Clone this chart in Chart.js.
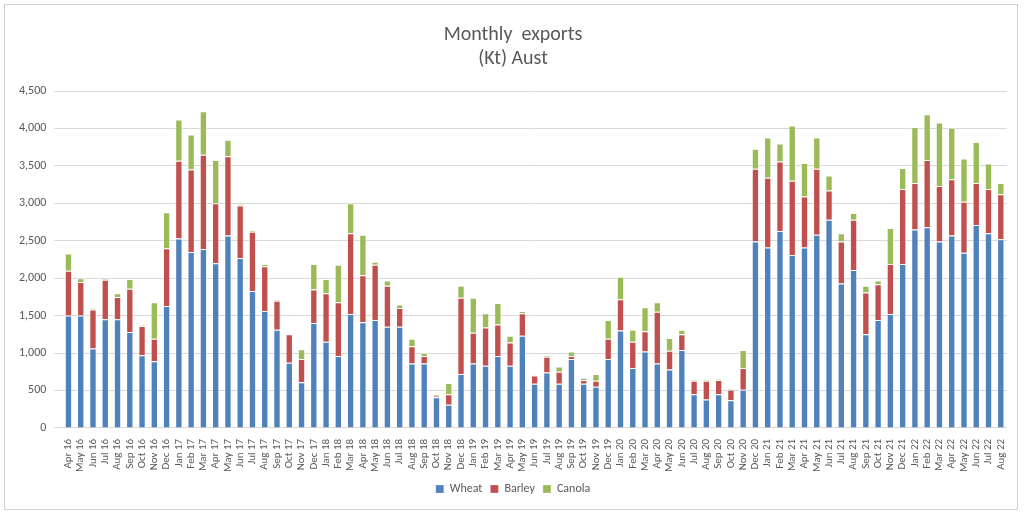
<!DOCTYPE html>
<html>
<head>
<meta charset="utf-8">
<script src="https://cdn.jsdelivr.net/npm/chart.js@4/dist/chart.umd.min.js"></script>
<style>
  html, body { margin: 0; padding: 0; background: #fff; }
  #wrap { position: absolute; left: 4px; top: 4px; width: 1014px; height: 506px; border: 1px solid #d0d0d0; box-sizing: border-box; }
</style>
</head>
<body>
<div id="wrap"><canvas id="chart"></canvas></div>
<script>
const months = ['Apr 16','May 16','Jun 16','Jul 16','Aug 16','Sep 16','Oct 16','Nov 16','Dec 16',
  'Jan 17','Feb 17','Mar 17','Apr 17','May 17','Jun 17','Jul 17','Aug 17','Sep 17','Oct 17','Nov 17','Dec 17',
  'Jan 18','Feb 18','Mar 18','Apr 18','May 18','Jun 18','Jul 18','Aug 18','Sep 18','Oct 18','Nov 18','Dec 18',
  'Jan 19','Feb 19','Mar 19','Apr 19','May 19','Jun 19','Jul 19','Aug 19','Sep 19','Oct 19','Nov 19','Dec 19',
  'Jan 20','Feb 20','Mar 20','Apr 20','May 20','Jun 20','Jul 20','Aug 20','Sep 20','Oct 20','Nov 20','Dec 20',
  'Jan 21','Feb 21','Mar 21','Apr 21','May 21','Jun 21','Jul 21','Aug 21','Sep 21','Oct 21','Nov 21','Dec 21',
  'Jan 22','Feb 22','Mar 22','Apr 22','May 22','Jun 22','Jul 22','Aug 22'];

const wheat = [1500,1500,1060,1450,1450,1280,970,890,1630,
  2530,2350,2390,2200,2570,2270,1830,1560,1310,870,610,1400,
  1150,960,1520,1410,1440,1350,1350,860,860,410,310,720,
  860,830,960,830,1230,590,740,590,920,590,550,920,
  1300,800,1020,860,780,1040,450,380,450,370,510,2490,
  2410,2630,2310,2410,2580,2780,1930,2110,1250,1440,1520,2190,
  2650,2680,2490,2570,2340,2710,2600,2520];

const barley = [600,450,520,530,300,580,390,300,770,
  1040,1100,1260,800,1060,700,790,600,390,380,310,450,
  650,720,1080,630,740,550,250,230,100,20,140,1020,
  410,510,420,310,300,110,210,160,40,50,80,270,
  420,350,270,690,250,210,180,250,190,140,290,970,
  930,930,990,680,880,390,560,670,560,480,670,1000,
  620,900,740,750,680,560,590,600];

const canola = [230,50,20,10,50,130,10,490,480,
  550,470,580,580,220,20,20,30,10,10,130,340,
  190,500,400,540,40,70,50,100,40,20,150,160,
  470,190,290,90,30,10,20,70,60,30,90,250,
  300,160,320,130,170,60,10,10,10,10,240,270,
  540,240,740,450,420,200,110,90,90,50,480,280,
  750,610,850,690,580,550,340,150];

const yTicks = [0,500,1000,1500,2000,2500,3000,3500,4000,4500];

const font = 'Calibri, "Liberation Sans", Arial, sans-serif';

function series(label, data, color) {
  return {
    label, data,
    backgroundColor: color,
    borderColor: 'rgba(255,255,255,0.35)',
    borderWidth: { left: 1, right: 1, top: 1, bottom: 0 },
    categoryPercentage: 0.6,
    barPercentage: 1,
  };
}

new Chart(document.getElementById('chart'), {
  type: 'bar',
  data: {
    labels: months,
    datasets: [
      series('Wheat', wheat, '#4F81BD'),
      series('Barley', barley, '#C0504D'),
      series('Canola', canola, '#9BBB59'),
    ],
  },
  options: {
    responsive: true,
    maintainAspectRatio: false,
    animation: false,
    layout: { padding: { left: 6, right: 2, top: 6, bottom: 4 } },
    plugins: {
      title: {
        display: true,
        text: ['Monthly  exports', '(Kt) Aust'],
        color: '#595959',
        font: { family: font, size: 20, weight: 'normal' },
        lineHeight: 1.35,
        padding: { top: 12, bottom: 20 },
      },
      legend: {
        position: 'bottom',
        labels: {
          boxWidth: 8, boxHeight: 8, padding: 8,
          color: '#595959',
          font: { family: font, size: 12 },
        },
      },
      tooltip: { enabled: false },
    },
    scales: {
      x: {
        stacked: true,
        grid: { display: false },
        border: { color: '#d9d9d9' },
        ticks: {
          autoSkip: false, maxRotation: 90, minRotation: 90,
          color: '#595959', font: { family: font, size: 11 }, padding: 3,
        },
      },
      y: {
        stacked: true,
        min: 0, max: 4500,
        afterBuildTicks: axis => { axis.ticks = yTicks.map(v => ({ value: v })); },
        grid: { color: '#d9d9d9' },
        border: { display: false },
        ticks: {
          color: '#595959', font: { family: font, size: 12 }, padding: 8,
          callback: v => v.toLocaleString('en-US'),
        },
      },
    },
  },
});
</script>
</body>
</html>
